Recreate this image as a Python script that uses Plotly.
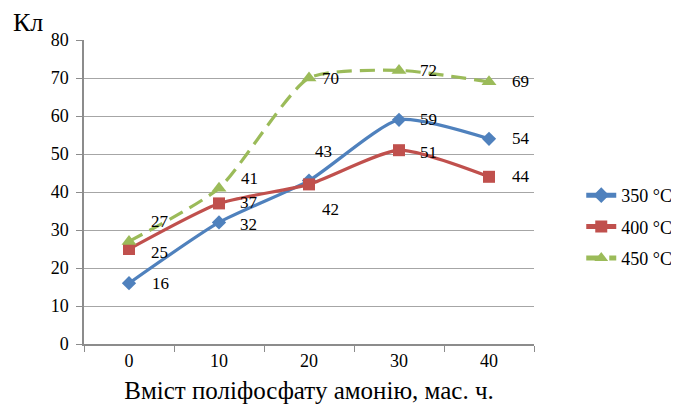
import plotly.graph_objects as go

categories = ["0", "10", "20", "30", "40"]
series_names = ["350 °C", "400 °C", "450 °C"]
values_350 = [16, 32, 43, 59, 54]
values_400 = [25, 37, 42, 51, 44]
values_450 = [27, 41, 70, 72, 69]
y_ticks = [0, 10, 20, 30, 40, 50, 60, 70, 80]

# styles
colors = ["#4F81BD", "#C0504D", "#9BBB59"]
symbols = ["diamond", "square", "triangle-up"]
msizes = [11, 12, 13]
dashes = ["solid", "solid", "15px,8px"]
# label offsets (px): x right, y up
label_dx = [[21, 19, 4, 19, 21], [20, 19, 11, 19, 21], [20, 20, 11, 19, 21]]
label_dy = [[0, -2, 29, 0, 0], [-3, 1, -25, -2, 0], [20, 10, 0, 0, 0]]

font_family = "Liberation Serif"
fig = go.Figure()
all_values = [values_350, values_400, values_450]
for i, (name, vals) in enumerate(zip(series_names, all_values)):
    fig.add_trace(go.Scatter(
        x=categories, y=vals, name=name, mode="lines+markers", legendgroup=name,
        line=dict(color=colors[i], width=3.2, shape="spline", smoothing=0.6, dash=dashes[i]),
        marker=dict(symbol=symbols[i], size=msizes[i], color=colors[i]),
    ))
    for j, v in enumerate(vals):
        fig.add_annotation(x=j, y=v, text=str(v), showarrow=False,
                           xanchor="left", yanchor="middle",
                           xshift=label_dx[i][j], yshift=label_dy[i][j],
                           font=dict(family=font_family, size=17, color="#000"))

fig.add_annotation(xref="paper", yref="paper", x=-0.162, y=1.058, xanchor="left", yanchor="middle",
                   text="Кл", showarrow=False, font=dict(family=font_family, size=26, color="#000"))

fig.update_layout(
    width=671, height=400,
    margin=dict(l=76, r=145, t=32, b=64, autoexpand=False),
    paper_bgcolor="white", plot_bgcolor="white",
    font=dict(family=font_family, color="#000"),
    legend=dict(x=1.105, y=0.385, yanchor="middle", xanchor="left", traceorder="grouped",
                font=dict(family="Liberation Serif", size=18), tracegroupgap=5,
                itemsizing="constant", bgcolor="rgba(0,0,0,0)"),
    showlegend=True,
)
fig.update_xaxes(type="category", range=[-0.5, 4.5], showgrid=False, automargin=False,
                 showline=True, linecolor="#8C8C8C", linewidth=1.5,
                 ticks="outside", ticklen=6, tickcolor="#8C8C8C", tickson="boundaries",
                 tickfont=dict(family=font_family, size=18),
                 title=dict(text="Вміст поліфосфату амонію, мас. ч.", font=dict(family=font_family, size=25), standoff=11))
fig.update_yaxes(range=[0, 80], tickvals=y_ticks, showgrid=True, gridcolor="#A6A6A6", gridwidth=1.2,
                 automargin=False,
                 showline=True, linecolor="#8C8C8C", linewidth=1.5, zeroline=False,
                 ticks="outside", ticklen=6, tickcolor="#8C8C8C",
                 tickfont=dict(family=font_family, size=18), ticklabelstandoff=4)

fig.write_html("out.html")
